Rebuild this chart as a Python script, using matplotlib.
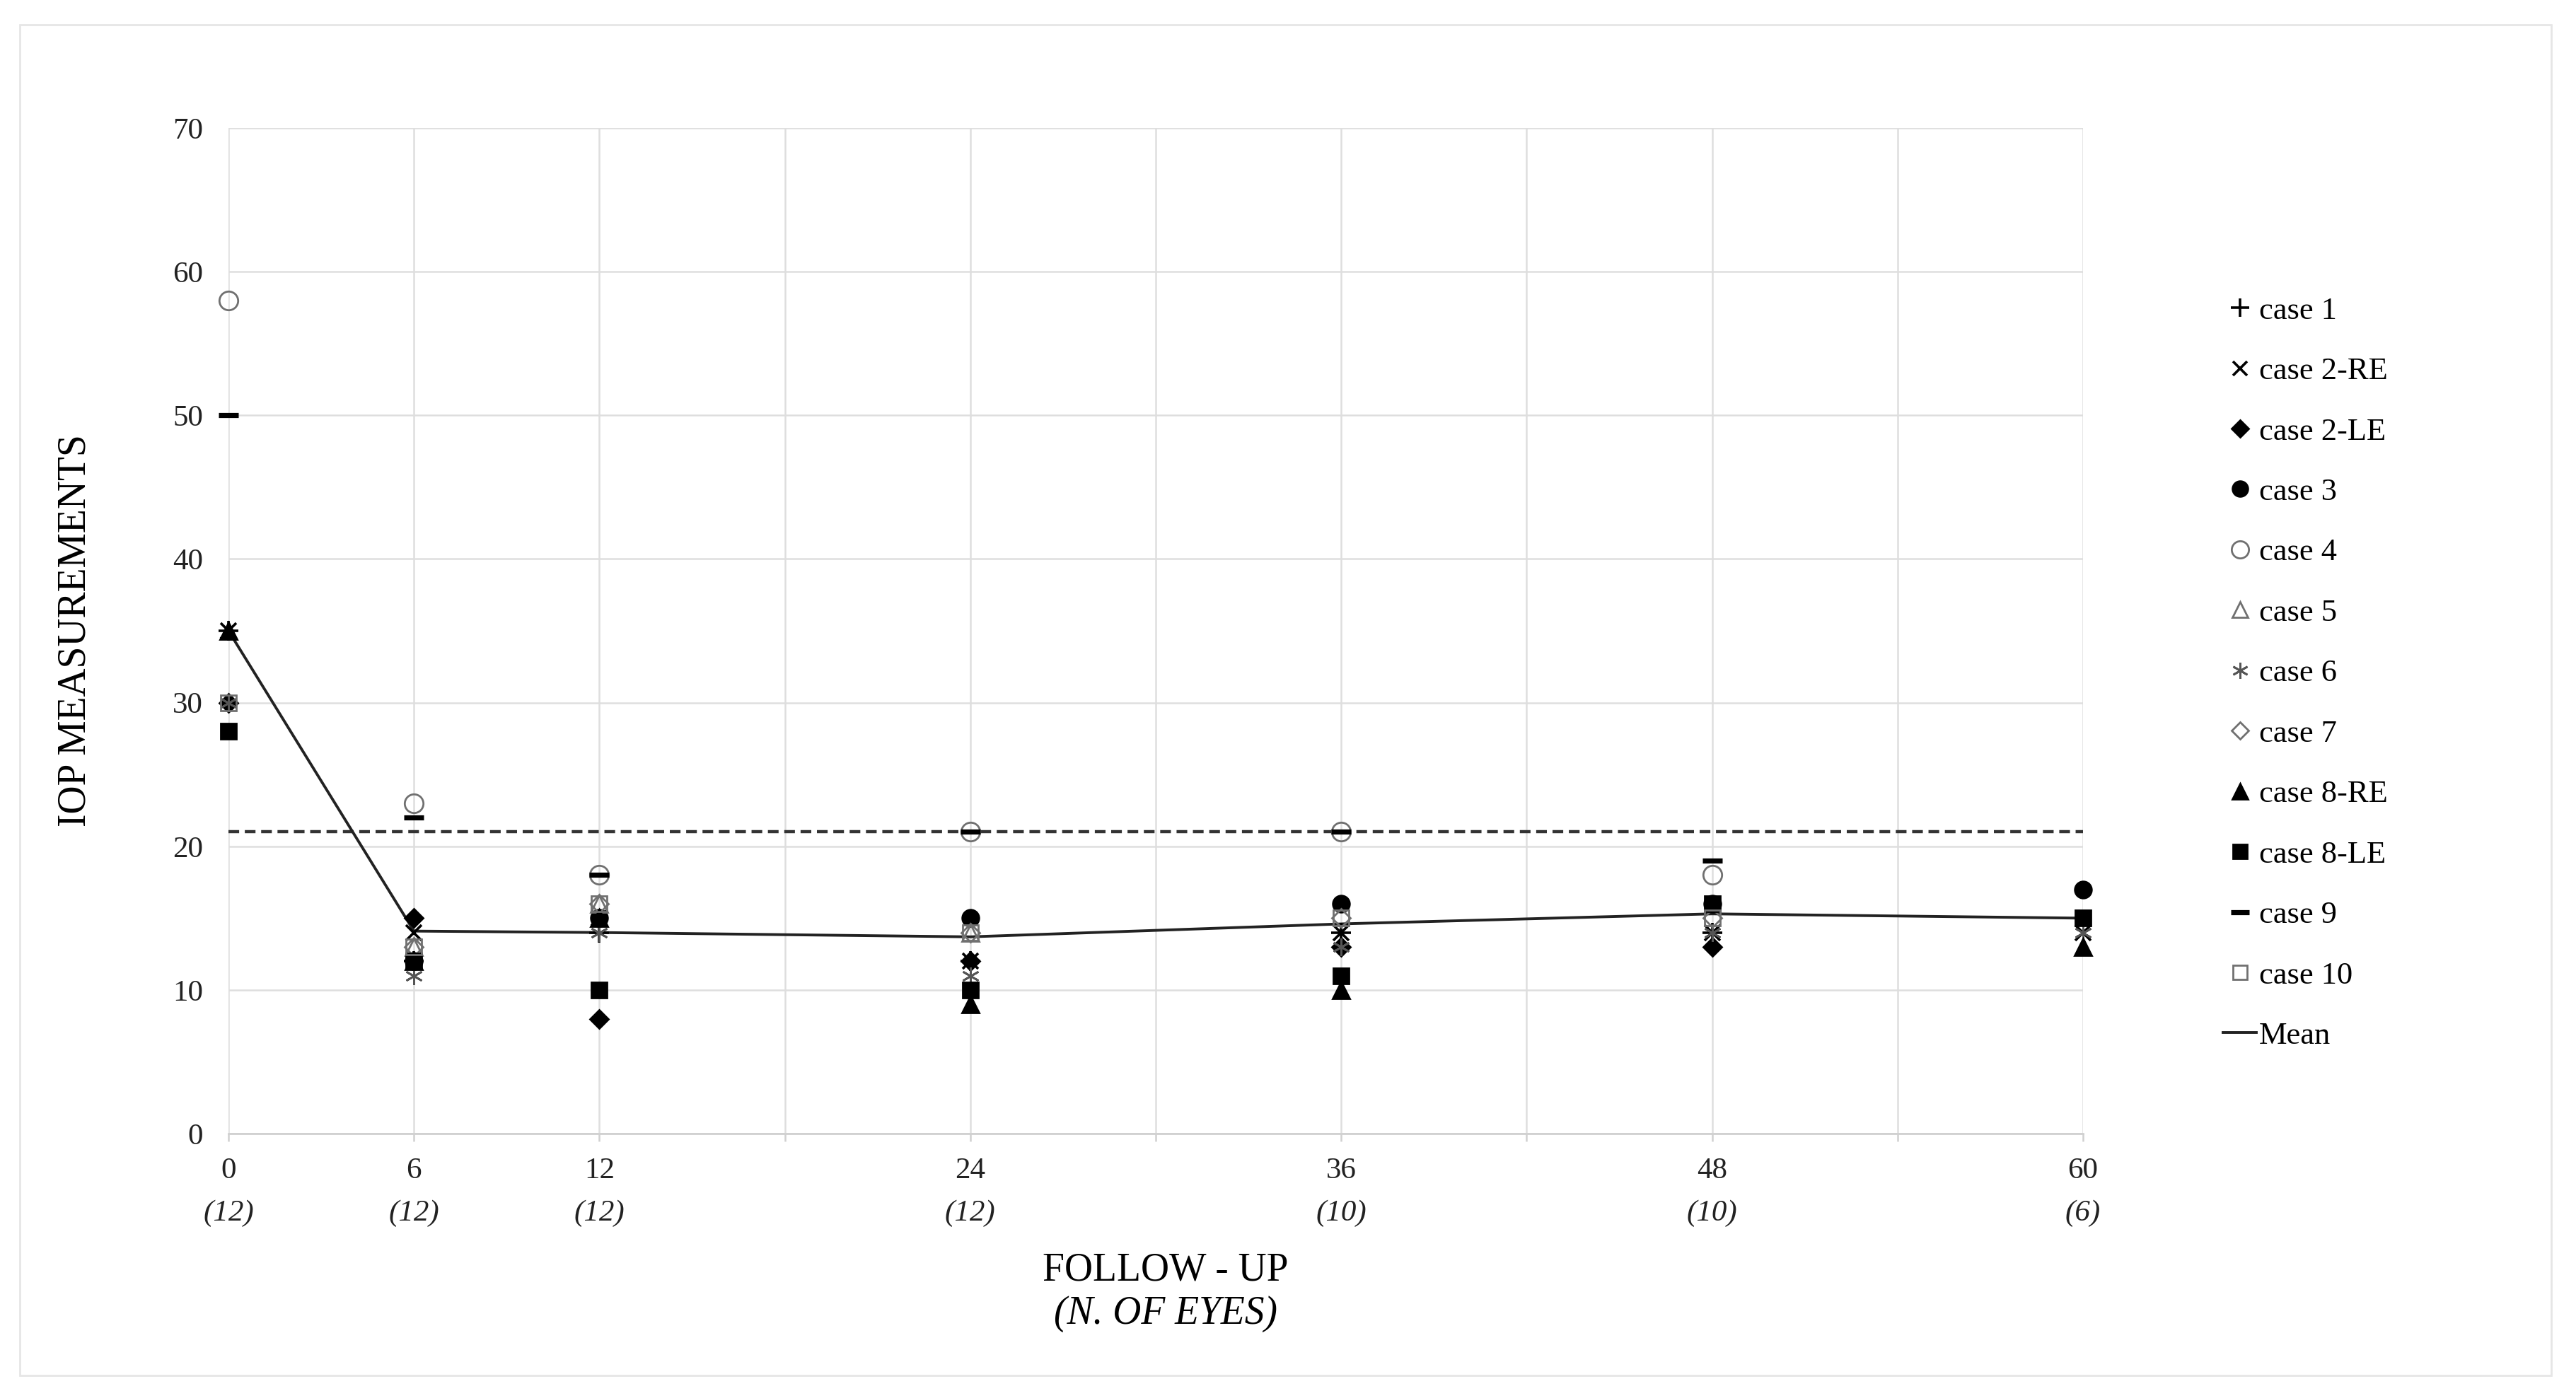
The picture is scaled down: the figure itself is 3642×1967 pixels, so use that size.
import matplotlib
matplotlib.use('Agg')
import matplotlib.pyplot as plt
from matplotlib.lines import Line2D
from matplotlib.patches import Rectangle
import matplotlib.transforms as mtransforms

plt.rcParams['font.family'] = ['Liberation Serif', 'DejaVu Serif']

# follow-up months and number of eyes
months = [0, 6, 12, 24, 36, 48, 60]
n_eyes = [12, 12, 12, 12, 10, 10, 6]
tick_labels = ['0', '6', '12', '', '24', '', '36', '', '48', '', '60']

# IOP per case (None = no measurement)
case_1 = [35, 12, 14, 12, 14, 14, None]
case_2re = [35, 14, 15, 12, 14, 14, 14]
case_2le = [30, 15, 8, 12, 13, 13, None]
case_3 = [None, 12, 15, 15, 16, 16, 17]
case_4 = [58, 23, 18, 21, 21, 18, None]
case_5 = [None, 13, 16, 14, None, None, None]
case_6 = [30, 11, 14, 11, 13, 14, 14]
case_7 = [None, 13, 16, 14, 15, 15, None]
case_8re = [35, 12, 15, 9, 10, None, 13]
case_8le = [28, 12, 10, 10, 11, 16, 15]
case_9 = [50, 22, 18, 21, 21, 19, None]
case_10 = [30, 13, 16, 14, 15, 15, None]
mean_iop = [35, 14.1, 14.0, 13.7, 14.6, 15.3, 15.0]
threshold = 21

grey = '#707070'
# label, values, marker, face, edge, size, edge width
styles = [
    ('case 1', case_1, '+', 'black', 'black', 10, 1.3),
    ('case 2-RE', case_2re, 'x', 'black', 'black', 8, 1.3),
    ('case 2-LE', case_2le, 'D', 'black', 'black', 6.5, 1.0),
    ('case 3', case_3, 'o', 'black', 'black', 8.5, 1.0),
    ('case 4', case_4, 'o', 'none', grey, 9.5, 1.0),
    ('case 5', case_5, '^', 'none', grey, 8.5, 1.0),
    ('case 6', case_6, (6, 2, 0), '#555555', '#555555', 9, 1.0),
    ('case 7', case_7, 'D', 'none', grey, 6.5, 1.0),
    ('case 8-RE', case_8re, '^', 'black', 'black', 8.5, 1.0),
    ('case 8-LE', case_8le, 's', 'black', 'black', 8, 1.0),
    ('case 9', case_9, '_', 'black', 'black', 10, 2.6),
    ('case 10', case_10, 's', 'none', grey, 8, 1.0),
]

fig = plt.figure(figsize=(18.21, 9.835), dpi=200)
ax = fig.add_axes([0.0887, 0.185, 0.7199, 0.723])

# outer frame
fig.patches.append(Rectangle((0.0077, 0.011), 0.9827, 0.971, transform=fig.transFigure,
                             fill=False, edgecolor='#e6e6e6', linewidth=1.0))

ax.set_xlim(0, 60)
ax.set_ylim(0, 70)
ax.set_xticks(range(0, 61, 6))
ax.set_xticklabels(tick_labels)
ax.set_yticks(range(0, 71, 10))
ax.grid(True, color='#dedede', linewidth=0.9)
ax.set_axisbelow(True)
for s in ['top', 'right', 'left']:
    ax.spines[s].set_visible(False)
ax.spines['bottom'].set_color('#d0d0d0')
ax.spines['bottom'].set_linewidth(1.0)
ax.tick_params(axis='x', length=4, width=0.9, color='#d0d0d0', labelsize=15.5,
               labelcolor='#222222', pad=8)
ax.tick_params(axis='y', length=0, labelsize=15.5, labelcolor='#222222', pad=13)

ax.axhline(threshold, color='#333333', linewidth=1.6, dashes=(3.4, 1.8), zorder=2)
ax.plot(months, mean_iop, color='#222222', linewidth=1.4, zorder=3, clip_on=False)

handles = []
for label, vals, mk, fc, ec, ms, mew in styles:
    xs = [m for m, v in zip(months, vals) if v is not None]
    ys = [v for v in vals if v is not None]
    ax.plot(xs, ys, linestyle='none', marker=mk, markerfacecolor=fc, markeredgecolor=ec,
            markersize=ms, markeredgewidth=mew, zorder=4, clip_on=False)
    handles.append(Line2D([], [], linestyle='none', marker=mk, markerfacecolor=fc,
                          markeredgecolor=ec, markersize=ms * 0.92, markeredgewidth=mew,
                          label=label))
handles.append(Line2D([], [], color='#222222', linewidth=1.4, label='Mean'))

# number of eyes under the ticks
trans = mtransforms.blended_transform_factory(ax.transData, ax.transAxes)
for m, n in zip(months, n_eyes):
    ax.text(m, -0.079, '(%d)' % n, transform=trans, ha='center', va='center',
            fontsize=15.5, style='italic', color='#222222')

ax.set_ylabel('IOP MEASUREMENTS', fontsize=20, labelpad=40)
fig.text(0.4525, 0.0865, 'FOLLOW - UP', ha='center', va='center', fontsize=20)
fig.text(0.4525, 0.0555, '(N. OF EYES)', ha='center', va='center', fontsize=20,
         style='italic')

fig.legend(handles=handles, loc='upper left', bbox_to_anchor=(0.857, 0.798),
           frameon=False, fontsize=16, handlelength=1.05, handletextpad=0.08,
           labelspacing=1.02, borderpad=0)

fig.savefig('out.png', dpi=200, facecolor='white')
